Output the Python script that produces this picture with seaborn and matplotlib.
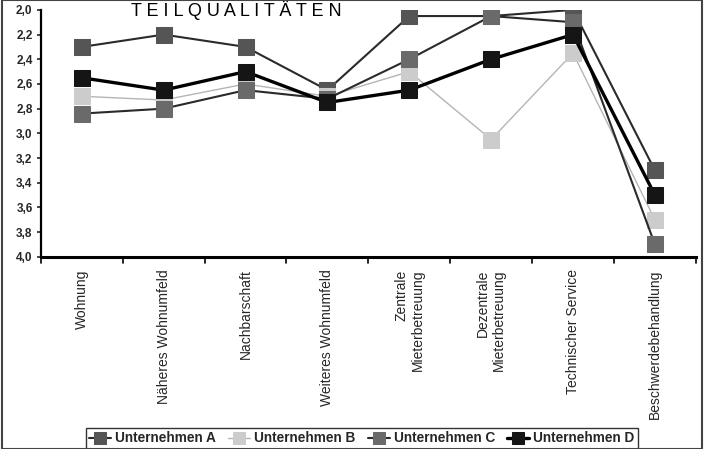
import pandas as pd
import numpy as np
import matplotlib
matplotlib.use("Agg")
import matplotlib.pyplot as plt
import seaborn as sns

# data (scale: 1 = best, 4 = worst)
kategorien = ["Wohnung", "Näheres Wohnumfeld", "Nachbarschaft", "Weiteres Wohnumfeld",
              "Zentrale\nMieterbetreuung", "Dezentrale\nMieterbetreuung",
              "Technischer Service", "Beschwerdebehandlung"]
unternehmen_a = [2.3, 2.2, 2.3, 2.65, 2.05, 2.05, 2.0, 3.3]
unternehmen_b = [2.7, 2.73, 2.6, 2.7, 2.5, 3.05, 2.35, 3.7]
unternehmen_c = [2.84, 2.8, 2.65, 2.72, 2.4, 2.05, 2.1, 3.9]
unternehmen_d = [2.55, 2.65, 2.5, 2.75, 2.65, 2.4, 2.2, 3.5]
y_ticks = [2.0, 2.2, 2.4, 2.6, 2.8, 3.0, 3.2, 3.4, 3.6, 3.8, 4.0]

serien = {"Unternehmen A": unternehmen_a, "Unternehmen B": unternehmen_b,
          "Unternehmen C": unternehmen_c, "Unternehmen D": unternehmen_d}
df = pd.DataFrame([(name, k, w) for name, werte in serien.items()
                   for k, w in zip(kategorien, werte)],
                  columns=["Unternehmen", "Kategorie", "Note"])

sns.set_style("white")
plt.rcParams['font.family'] = ['Liberation Sans', 'DejaVu Sans']

# line colour, marker colour, line width
stil = {"Unternehmen A": ("#2a2a2a", "#555555", 1.5),
        "Unternehmen B": ("#b5b5b5", "#cccccc", 1.0),
        "Unternehmen C": ("#2a2a2a", "#6a6a6a", 1.5),
        "Unternehmen D": ("#000000", "#151515", 2.4)}

fig = plt.figure(figsize=(7.05, 4.49), dpi=100)
ax = fig.add_axes([0.058, 0.428, 0.929, 0.55])

for name in serien:
    lc, mc, lw = stil[name]
    sns.lineplot(data=df[df["Unternehmen"] == name], x="Kategorie", y="Note",
                 sort=False, color=lc, lw=lw, marker="s", markersize=11.5,
                 markerfacecolor=mc, markeredgecolor=mc, label=name, ax=ax)

ax.set_xlim(-0.5, len(kategorien) - 0.5)
ax.set_ylim(4.0, 2.0)
ax.set_yticks(y_ticks)
ax.set_yticklabels([f"{v:.1f}".replace(".", ",") for v in y_ticks],
                   fontsize=8.5, fontweight="bold")
ax.set_xticks(range(len(kategorien)))
ax.set_xticklabels(kategorien, rotation=90, fontsize=10, va="top",
                   ha="center", multialignment="right")
ax.tick_params(axis="x", length=0, pad=9)
ax.tick_params(axis="y", length=3, width=1.2, direction="out", left=True, pad=3)
# category boundary ticks on x axis
for xb in np.arange(-0.5, len(kategorien), 1.0):
    ax.plot([xb, xb], [4.0, 4.05], color="black", lw=1.2, clip_on=False)
ax.set_xlabel("")
ax.set_ylabel("")
for s in ["top", "right"]:
    ax.spines[s].set_visible(False)
ax.spines["left"].set_linewidth(1.6)
ax.spines["bottom"].set_linewidth(2.2)
ax.spines["left"].set_color("black")
ax.spines["bottom"].set_color("black")

ax.legend(loc="lower center", bbox_to_anchor=(0.49, -0.805), ncol=4,
          frameon=True, fancybox=False, edgecolor="black", handlelength=1.6,
          handletextpad=0.3, columnspacing=0.9, borderpad=0.25, markerscale=0.7,
          prop={"weight": "bold", "size": 9.8})
ax.get_legend().get_frame().set_linewidth(1.0)

# title at the top edge
fig.text(0.335, 0.998, "T E I L Q U A L I T Ä T E N", fontsize=13, ha="center",
         va="top", color="black")

# page frame
fig.patches.append(plt.Rectangle((0.003, 0.0), 0.993, 1.0, transform=fig.transFigure,
                                 fill=False, edgecolor="#444444", lw=1.5))

fig.savefig("out.png", dpi=100)
